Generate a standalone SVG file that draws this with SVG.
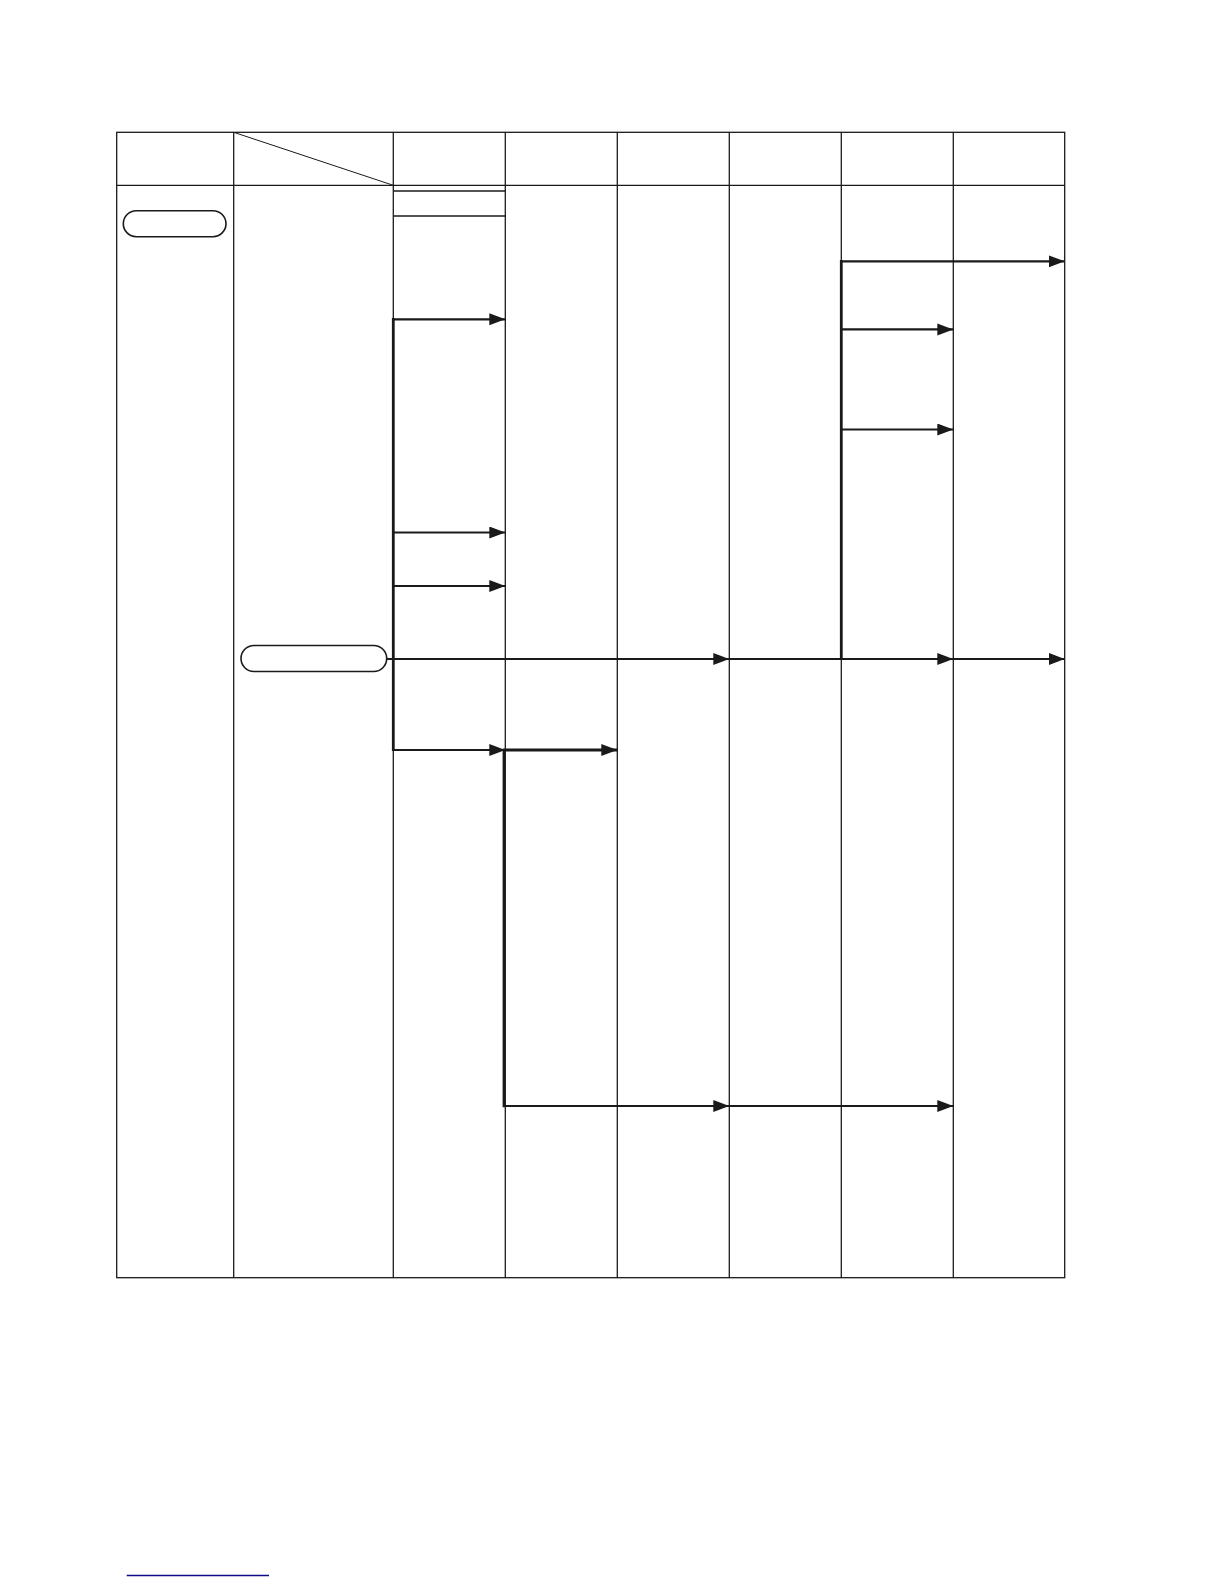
<svg xmlns="http://www.w3.org/2000/svg" width="1224" height="1584" viewBox="0 0 1224 1584">
<style>
.grid{stroke:#1a1a1a;stroke-width:1.3;fill:none}
.thin{stroke:#1a1a1a;stroke-width:1;fill:none}
.pill{stroke:#1a1a1a;stroke-width:1.6;fill:#fff}
.arr{stroke:#1a1a1a;stroke-width:2.2;fill:none;marker-end:url(#ah)}
.ln{stroke:#1a1a1a;stroke-width:2.2;fill:none}
.vbar{stroke:#1a1a1a;stroke-width:2.8;fill:none}
</style>
<defs>
<marker id="ah" markerUnits="userSpaceOnUse" markerWidth="18" markerHeight="14" refX="16" refY="6" orient="auto">
<path d="M0,0 L16,6 L0,12 z" fill="#1a1a1a"/>
</marker>
</defs>
<rect width="1224" height="1584" fill="#fff"/>
<g id="table">
<rect class="grid" x="116.7" y="132.3" width="948" height="1145.4"/>
<line class="grid" x1="116.7" y1="185.3" x2="1064.7" y2="185.3"/>
<line class="grid" x1="233.7" y1="132.3" x2="233.7" y2="1277.7"/>
<line class="grid" x1="393.3" y1="132.3" x2="393.3" y2="1277.7"/>
<line class="grid" x1="505.3" y1="132.3" x2="505.3" y2="1277.7"/>
<line class="grid" x1="617.3" y1="132.3" x2="617.3" y2="1277.7"/>
<line class="grid" x1="729.3" y1="132.3" x2="729.3" y2="1277.7"/>
<line class="grid" x1="841.3" y1="132.3" x2="841.3" y2="1277.7"/>
<line class="grid" x1="953.3" y1="132.3" x2="953.3" y2="1277.7"/>
<line class="thin" x1="233.7" y1="132.3" x2="393.3" y2="185.3"/>
<line class="grid" x1="393.3" y1="191" x2="505.3" y2="191"/>
<line class="grid" x1="393.3" y1="216" x2="505.3" y2="216"/>
</g>
<g id="node-start">
<rect class="pill" x="123.3" y="210.7" width="102.7" height="26" rx="13" ry="13"/>
</g>
<g id="node-branch">
<rect class="pill" x="241" y="645.5" width="145.7" height="26" rx="13" ry="13"/>
</g>
<g id="connectors">
<line class="vbar" x1="393.3" y1="318" x2="393.3" y2="751"/>
<line class="vbar" x1="841.3" y1="260" x2="841.3" y2="660"/>
<line class="vbar" x1="504" y1="749" x2="504" y2="1107.3"/>
<line class="arr" x1="392" y1="319.3" x2="505.3" y2="319.3"/>
<line class="arr" x1="392" y1="532.5" x2="505.3" y2="532.5"/>
<line class="arr" x1="392" y1="586" x2="505.3" y2="586"/>
<line class="arr" x1="386.7" y1="659" x2="729.3" y2="659"/>
<line class="ln" x1="729.3" y1="659" x2="841.3" y2="659"/>
<line class="arr" x1="841.3" y1="659" x2="953.3" y2="659"/>
<line class="arr" x1="953.3" y1="659" x2="1064.7" y2="659"/>
<line class="arr" x1="392" y1="750" x2="505.3" y2="750"/>
<line class="arr" x1="503" y1="750" x2="617.3" y2="750" style="stroke-width:2.8"/>
<line class="arr" x1="840" y1="261.3" x2="1064.7" y2="261.3"/>
<line class="arr" x1="840" y1="329.4" x2="953.3" y2="329.4"/>
<line class="arr" x1="840" y1="429.5" x2="953.3" y2="429.5"/>
<line class="arr" x1="503" y1="1106" x2="729.3" y2="1106"/>
<line class="arr" x1="729.3" y1="1106" x2="953.3" y2="1106"/>
</g>
<line x1="126.7" y1="1575.5" x2="269" y2="1575.5" stroke="#0c0c88" stroke-width="1.4"/>
</svg>
